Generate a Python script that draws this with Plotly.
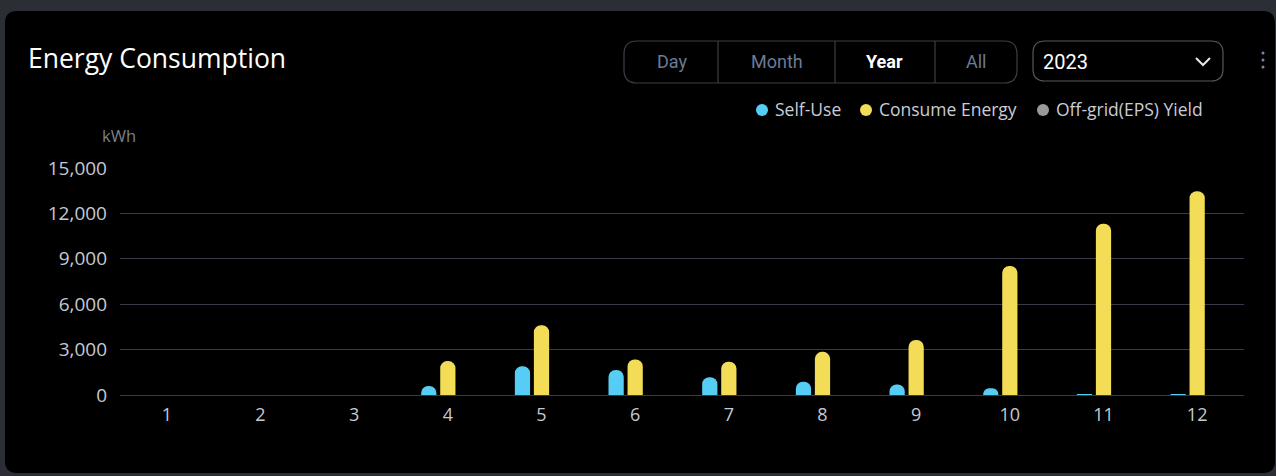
import plotly.graph_objects as go

# ---- data ----
months = ["1", "2", "3", "4", "5", "6", "7", "8", "9", "10", "11", "12"]
self_use = [0, 0, 0, 600, 1900, 1650, 1170, 880, 700, 440, 60, 20]
consume_energy = [0, 0, 0, 2240, 4610, 2350, 2200, 2850, 3630, 8520, 11320, 13470]
offgrid_yield = [0, 0, 0, 0, 0, 0, 0, 0, 0, 0, 0, 0]
series_names = ["Self-Use", "Consume Energy", "Off-grid(EPS) Yield"]
series_colors = ["#55CDF5", "#F3DD57", "#9A9A9A"]
y_ticks = [0, 3000, 6000, 9000, 12000, 15000]
buttons = ["Day", "Month", "Year", "All"]
selected_button = "Year"
year_label = "2023"
title_text = "Energy Consumption"
unit_text = "kWh"

FONT = "Open Sans"
W, H = 1276, 476
L, R, T, B = 120, 1244, 168, 395  # plot area in pixels


def px(x):
    return (x - L) / (R - L)


def py(y):
    return (B - y) / (B - T)


def rrect(x0, y0, x1, y1, r):
    return (
        f"M {px(x0 + r)} {py(y0)} L {px(x1 - r)} {py(y0)} "
        f"Q {px(x1)} {py(y0)} {px(x1)} {py(y0 + r)} "
        f"L {px(x1)} {py(y1 - r)} Q {px(x1)} {py(y1)} {px(x1 - r)} {py(y1)} "
        f"L {px(x0 + r)} {py(y1)} Q {px(x0)} {py(y1)} {px(x0)} {py(y1 - r)} "
        f"L {px(x0)} {py(y0 + r)} Q {px(x0)} {py(y0)} {px(x0 + r)} {py(y0)} Z"
    )


fig = go.Figure()
for name, vals, col in zip(series_names, [self_use, consume_energy, offgrid_yield], series_colors):
    fig.add_trace(go.Bar(x=months, y=vals, name=name, marker=dict(color=col, line=dict(width=0)),
                         showlegend=False))

shapes = []
annotations = []

# card background
shapes.append(dict(type="path", xref="paper", yref="paper", path=rrect(5, 11, 1275, 473, 12),
                   fillcolor="#000000", line=dict(width=0), layer="below"))

# segmented control
shapes.append(dict(type="path", xref="paper", yref="paper", path=rrect(624, 41, 1017, 83, 13),
                   fillcolor="rgba(0,0,0,0)", line=dict(color="#3C3F48", width=1.2)))
dividers = [718, 835, 935]
for dx in dividers:
    shapes.append(dict(type="line", xref="paper", yref="paper", x0=px(dx), x1=px(dx), y0=py(41), y1=py(83),
                       line=dict(color="#3C3F48", width=1.2)))
btn_centers = [672, 777, 885, 976]
for lab, cx in zip(buttons, btn_centers):
    sel = lab == selected_button
    annotations.append(dict(xref="paper", yref="paper", x=px(cx), y=py(62), text=f"<b>{lab}</b>" if sel else lab,
                            showarrow=False, xanchor="center", yanchor="middle",
                            font=dict(family="Roboto", size=18,
                                      color="#FFFFFF" if sel else "#6C7A96")))

# dropdown
shapes.append(dict(type="path", xref="paper", yref="paper", path=rrect(1033, 41, 1223, 81, 12),
                   fillcolor="rgba(0,0,0,0)", line=dict(color="#55585F", width=1.2)))
annotations.append(dict(xref="paper", yref="paper", x=px(1041), y=py(62), text=year_label, showarrow=False,
                        xanchor="left", yanchor="middle", font=dict(family="Roboto", size=20, color="#FFFFFF")))
shapes.append(dict(type="path", xref="paper", yref="paper",
                   path=f"M {px(1196)} {py(58)} L {px(1203)} {py(65)} L {px(1210)} {py(58)}",
                   line=dict(color="#E8E8E8", width=2)))
# kebab menu
for dy in [53, 60, 67]:
    shapes.append(dict(type="circle", xref="paper", yref="paper", x0=px(1261.5), x1=px(1264.5),
                       y0=py(dy - 1.5), y1=py(dy + 1.5), fillcolor="#7886A2", line=dict(width=0)))

# legend
leg_circle_x = [762, 866, 1043]
for name, col, cx in zip(series_names, series_colors, leg_circle_x):
    shapes.append(dict(type="circle", xref="paper", yref="paper", x0=px(cx - 6), x1=px(cx + 6),
                       y0=py(110 - 6), y1=py(110 + 6), fillcolor=col, line=dict(width=0)))
    annotations.append(dict(xref="paper", yref="paper", x=px(cx + 11), y=py(109), text=name, showarrow=False,
                            xanchor="left", yanchor="middle",
                            font=dict(family=FONT, size=17.5, color="#C9CDD6")))

# title & unit
annotations.append(dict(xref="paper", yref="paper", x=px(26), y=py(58), text=title_text, showarrow=False,
                        xanchor="left", yanchor="middle", font=dict(family=FONT, size=26.5, color="#FFFFFF")))
annotations.append(dict(xref="paper", yref="paper", x=px(119), y=py(135), text=unit_text, showarrow=False,
                        xanchor="center", yanchor="middle", font=dict(family=FONT, size=16.5, color="#7C8088")))

fig.update_layout(
    width=W, height=H,
    margin=dict(l=L, r=W - R, t=T, b=H - B, pad=0),
    paper_bgcolor="#2B2E35",
    plot_bgcolor="rgba(0,0,0,0)",
    barmode="group",
    bargap=0.39,
    bargroupgap=0.2,
    barcornerradius="50%",
    showlegend=False,
    shapes=shapes,
    annotations=annotations,
    xaxis=dict(showgrid=False, zeroline=False, showline=False, ticks="", ticklabelstandoff=7,
               tickfont=dict(family=FONT, size=18, color="#C5C9D3"), fixedrange=True),
    yaxis=dict(range=[0, 15000], tickvals=y_ticks, tickformat=",d", showgrid=True, gridcolor="#373B49",
               gridwidth=1, zeroline=True, zerolinecolor="#373B49", zerolinewidth=1, showline=False, ticks="",
               ticklabelstandoff=12, tickfont=dict(family=FONT, size=19, color="#C5C9D3"), fixedrange=True),
)

fig.write_html("out.html", config={"displayModeBar": False},
               post_script="document.body.style.margin='0';document.body.style.overflow='hidden';")
